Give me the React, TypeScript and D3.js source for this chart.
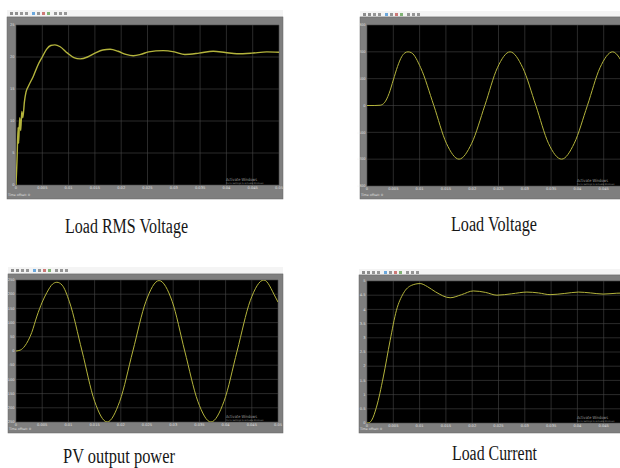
import * as d3 from 'd3'

type Pt = [number, number]

// time axis shared by every scope (seconds)
const timeDomain: Pt = [0, 0.05]
const timeTicks = [0, 0.005, 0.01, 0.015, 0.02, 0.025, 0.03, 0.035, 0.04, 0.045, 0.05]
const timeTickLabels = ['0', '0.005', '0.01', '0.015', '0.02', '0.025', '0.03', '0.035', '0.04', '0.045', '0.05']

const captions = ['Load RMS Voltage', 'Load Voltage', 'PV output power', 'Load Current']

// Load RMS Voltage
const rmsTicks = [0, 5, 10, 15, 20, 25]
const rmsSeries: Pt[] = [
  [0, 0], [0.0002, 4], [0.0004, 9], [0.0005, 6.5], [0.0007, 10.5], [0.0009, 8.5],
  [0.0011, 11.5], [0.0013, 10.5], [0.0016, 13], [0.0019, 14.5], [0.0024, 15.5],
  [0.0033, 17], [0.0042, 18.8], [0.005, 20], [0.0058, 21.2], [0.0066, 21.8],
  [0.0074, 21.9], [0.0084, 21.6], [0.0098, 20.6], [0.011, 19.9], [0.0122, 19.7],
  [0.0136, 20.0], [0.015, 20.6], [0.0165, 21.1], [0.0179, 21.2], [0.0194, 20.9],
  [0.0209, 20.4], [0.0223, 20.2], [0.0237, 20.4], [0.0252, 20.8], [0.028, 21.0],
  [0.0301, 20.8], [0.0321, 20.4], [0.0348, 20.6], [0.0375, 20.9], [0.0398, 20.7],
  [0.042, 20.5], [0.0448, 20.6], [0.0477, 20.8], [0.05, 20.75],
]

// Load Voltage
const voltTicks = [-300, -200, -100, 0, 100, 200, 300]
const voltSeries: Pt[] = [
  [0, 0], [0.0015, 0], [0.0025, 1], [0.0033, 10], [0.0042, 45], [0.005, 95],
  [0.0058, 145], [0.0066, 182], [0.0072, 196], [0.0078, 200], [0.0085, 196],
  [0.0102, 141], [0.0127, 0], [0.0151, -141], [0.0175, -200], [0.0199, -141],
  [0.0224, 0], [0.0248, 141], [0.0272, 200], [0.0296, 141], [0.0321, 0],
  [0.0345, -141], [0.037, -200], [0.0394, -141], [0.0419, 0], [0.0443, 141],
  [0.0467, 200], [0.0491, 141], [0.05, 110],
]

// PV output power
const powerTicks = [-250, -200, -150, -100, -50, 0, 50, 100, 150, 200, 250]
const powerSeries: Pt[] = [
  [0, 0], [0.0008, 3], [0.0017, 18], [0.003, 65], [0.004, 123], [0.005, 172],
  [0.0059, 206], [0.007, 236], [0.0078, 242], [0.0088, 232], [0.0102, 173],
  [0.0126, 0], [0.015, -177], [0.0174, -250], [0.0198, -177], [0.0223, 0],
  [0.0248, 175], [0.0273, 248], [0.0298, 175], [0.0322, 0], [0.0347, -177],
  [0.0372, -250], [0.0397, -177], [0.0422, 0], [0.0447, 177], [0.0473, 250],
  [0.0495, 190], [0.05, 172],
]

// Load Current
const currentTicks = [0, 0.5, 1, 1.5, 2, 2.5, 3, 3.5, 4, 4.5, 5]
const currentSeries: Pt[] = [
  [0, 0], [0.0005, 0.02], [0.0009, 0.1], [0.0018, 0.56], [0.0031, 1.62],
  [0.0044, 2.91], [0.0056, 3.97], [0.0069, 4.56], [0.0085, 4.85], [0.0101, 4.91],
  [0.0115, 4.8], [0.013, 4.62], [0.0158, 4.41], [0.018, 4.52], [0.0202, 4.65],
  [0.0225, 4.6], [0.0247, 4.5], [0.0275, 4.55], [0.0304, 4.61], [0.0326, 4.58],
  [0.0348, 4.52], [0.0375, 4.56], [0.0402, 4.61], [0.0425, 4.58], [0.0449, 4.54],
  [0.0475, 4.57], [0.05, 4.58],
]

interface Box { x: number; y: number; w: number; h: number }

interface ScopeProps {
  id: string
  frame: Box
  plot: Box
  toolbarY: number
  series: Pt[]
  yTicks: number[]
  caption: string
  cap: { x: number; y: number; w: number }
  lineWidth?: number
}

const PAGE_W = 620
const iconColors = ['#6b6b6b', '#6b6b6b', '#777', '#777', '#3d8fd6', '#777', '#c0504d', '#5a9e4b', '#777', '#777', '#777']

function Scope({ id, frame, plot, toolbarY, series, yTicks, caption, cap, lineWidth = 1 }: ScopeProps) {
  const x = d3.scaleLinear().domain(timeDomain).range([plot.x, plot.x + plot.w])
  const y = d3.scaleLinear()
    .domain([yTicks[0], yTicks[yTicks.length - 1]])
    .range([plot.y + plot.h, plot.y])
  const line = d3.line<Pt>()
    .x(d => x(d[0]))
    .y(d => y(d[1]))
    .curve(d3.curveMonotoneX)

  const wmX = plot.x + 210

  return (
    <g>
      {/* toolbar strip */}
      <rect x={frame.x} y={toolbarY} width={frame.w} height={frame.y - toolbarY} fill="#f4f4f4" />
      <line x1={frame.x} x2={frame.x + frame.w} y1={frame.y - 0.3} y2={frame.y - 0.3} stroke="#c8c8c8" strokeWidth={0.6} />
      {iconColors.map((c, i) => (
        <rect key={i} x={frame.x + 3 + i * 5 + (i > 3 ? 2 : 0) + (i > 7 ? 2 : 0)} y={toolbarY + 2}
          width={3} height={3} fill={c} opacity={0.75} />
      ))}

      {/* scope window */}
      <rect x={frame.x} y={frame.y} width={frame.w} height={frame.h} fill="#7f7f7f" stroke="#666" strokeWidth={0.5} />
      <rect x={plot.x} y={plot.y} width={plot.w} height={plot.h} fill="#000" />

      <clipPath id={`clip-${id}`}>
        <rect x={plot.x} y={plot.y} width={plot.w} height={plot.h} />
      </clipPath>

      {/* grid */}
      {timeTicks.map(t => (
        <line key={`gx${t}`} x1={x(t)} x2={x(t)} y1={plot.y} y2={plot.y + plot.h} stroke="#474747" strokeWidth={0.6} />
      ))}
      {yTicks.map(v => (
        <line key={`gy${v}`} x1={plot.x} x2={plot.x + plot.w} y1={y(v)} y2={y(v)} stroke="#474747" strokeWidth={0.6} />
      ))}

      {/* tick labels */}
      <g fontFamily="DejaVu Sans" fontSize={3.6} fill="#e0e0e0">
        {timeTicks.filter(t => x(t) < PAGE_W - 6).map(t => (
          <text key={`lx${t}`} x={x(t)} y={plot.y + plot.h + 4} textAnchor="middle">
            {timeTickLabels[timeTicks.indexOf(t)]}
          </text>
        ))}
        {yTicks.map(v => (
          <text key={`ly${v}`} x={plot.x - 1.5} y={y(v) + 1.2} textAnchor="end">{v}</text>
        ))}
        <text x={frame.x + 1} y={frame.y + frame.h - 3} fontSize={3.2}>Time offset:  0</text>
      </g>

      <path d={line(series) ?? ''} fill="none" stroke="#b4b43c" strokeWidth={lineWidth}
        clipPath={`url(#clip-${id})`} />

      {/* watermark */}
      <text x={wmX} y={plot.y + plot.h - 4} fontFamily="DejaVu Sans" fontSize={4.2}
        fill="#9a9a9a" textLength={31} lengthAdjust="spacingAndGlyphs">Activate Windows</text>
      <text x={wmX} y={plot.y + plot.h - 0.8} fontFamily="DejaVu Sans" fontSize={2.3}
        fill="#8a8a8a" textLength={38} lengthAdjust="spacingAndGlyphs">Go to Settings to activate Windows.</text>

      <text x={cap.x} y={cap.y} fontFamily="Liberation Serif" fontSize={20} fill="#161616"
        textLength={cap.w} lengthAdjust="spacingAndGlyphs">{caption}</text>
    </g>
  )
}

export default function App() {
  return (
    <div style={{ position: 'absolute', left: 0, top: 0 }}>
      <svg width={620} height={468} viewBox="0 0 620 468" style={{ display: 'block', background: '#fff' }}>
        <Scope id="rms" frame={{ x: 7, y: 17, w: 276, h: 182 }} plot={{ x: 16, y: 25, w: 263, h: 160 }}
          toolbarY={10} series={rmsSeries} yTicks={rmsTicks} caption={captions[0]}
          cap={{ x: 65, y: 233, w: 123 }} lineWidth={1.4} />
        <Scope id="volt" frame={{ x: 360, y: 17, w: 275, h: 182 }} plot={{ x: 367, y: 25, w: 263, h: 161 }}
          toolbarY={11} series={voltSeries} yTicks={voltTicks} caption={captions[1]}
          cap={{ x: 451, y: 231, w: 86 }} />
        <Scope id="power" frame={{ x: 8, y: 274, w: 275, h: 159 }} plot={{ x: 16, y: 280, w: 262, h: 142 }}
          toolbarY={267} series={powerSeries} yTicks={powerTicks} caption={captions[2]}
          cap={{ x: 63, y: 463, w: 112 }} />
        <Scope id="current" frame={{ x: 359, y: 275, w: 275, h: 158 }} plot={{ x: 367, y: 281, w: 263, h: 142 }}
          toolbarY={269} series={currentSeries} yTicks={currentTicks} caption={captions[3]}
          cap={{ x: 452, y: 460, w: 85 }} />
      </svg>
    </div>
  )
}
